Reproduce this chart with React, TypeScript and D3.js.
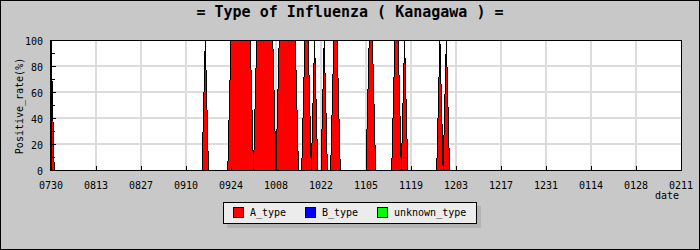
import React from 'react';
import * as d3 from 'd3';

const TITLE = '= Type of Influenza ( Kanagawa ) =';
const X_TICK_LABELS = ['0730', '0813', '0827', '0910', '0924', '1008', '1022', '1105', '1119', '1203', '1217', '1231', '0114', '0128', '0211'];
const Y_TICKS = [0, 20, 40, 60, 80, 100];
const Y_MINOR = [10, 30, 50, 70, 90];
const SERIES_NAMES = ['A_type', 'B_type', 'unknown_type'];
const SERIES_COLORS = ['#ff0000', '#0000ff', '#00ff00'];

// daily positive rate (%) from 07/30 to 02/11, two weeks per row
const A_TYPE = [
  100, 0, 0, 0, 0, 0, 0, 0, 0, 0, 0, 0, 0, 0,
  0, 0, 0, 0, 0, 0, 0, 0, 0, 0, 0, 0, 0, 0,
  0, 0, 0, 0, 0, 0, 0, 0, 0, 0, 0, 0, 0, 0,
  0, 0, 0, 0, 0, 0, 100, 0, 0, 0, 0, 0, 0, 0,
  100, 100, 100, 100, 100, 100, 100, 0, 100, 100, 100, 100, 100, 100,
  0, 100, 100, 100, 100, 100, 100, 0, 0, 100, 100, 0, 100, 0,
  0, 100, 0, 0, 100, 100, 0, 0, 0, 0, 0, 0, 0, 0,
  0, 100, 100, 0, 0, 0, 0, 0, 0, 100, 100, 0, 100, 0,
  0, 0, 0, 0, 0, 0, 0, 0, 0, 100, 0, 100, 0, 0,
  0, 0, 0, 0, 0, 0, 0, 0, 0, 0, 0, 0, 0, 0,
  0, 0, 0, 0, 0, 0, 0, 0, 0, 0, 0, 0, 0, 0,
  0, 0, 0, 0, 0, 0, 0, 0, 0, 0, 0, 0, 0, 0,
  0, 0, 0, 0, 0, 0, 0, 0, 0, 0, 0, 0, 0, 0,
  0, 0, 0, 0, 0, 0, 0, 0, 0, 0, 0, 0, 0, 0,
  0,
];
const B_TYPE = [
  0, 0, 0, 0, 0, 0, 0, 0, 0, 0, 0, 0, 0, 0,
  0, 0, 0, 0, 0, 0, 0, 0, 0, 0, 0, 0, 0, 0,
  0, 0, 0, 0, 0, 0, 0, 0, 0, 0, 0, 0, 0, 0,
  0, 0, 0, 0, 0, 0, 0, 0, 0, 0, 0, 0, 0, 0,
  0, 0, 0, 0, 0, 0, 0, 0, 0, 0, 0, 0, 0, 0,
  0, 0, 0, 0, 0, 0, 0, 0, 0, 0, 0, 0, 0, 0,
  0, 0, 0, 0, 0, 0, 0, 0, 0, 0, 0, 0, 0, 0,
  0, 0, 0, 0, 0, 0, 0, 0, 0, 0, 0, 0, 0, 0,
  0, 0, 0, 0, 0, 0, 0, 0, 0, 0, 0, 0, 0, 0,
  0, 0, 0, 0, 0, 0, 0, 0, 0, 0, 0, 0, 0, 0,
  0, 0, 0, 0, 0, 0, 0, 0, 0, 0, 0, 0, 0, 0,
  0, 0, 0, 0, 0, 0, 0, 0, 0, 0, 0, 0, 0, 0,
  0, 0, 0, 0, 0, 0, 0, 0, 0, 0, 0, 0, 0, 0,
  0, 0, 0, 0, 0, 0, 0, 0, 0, 0, 0, 0, 0, 0,
  0,
];
const UNKNOWN_TYPE = [
  0, 0, 0, 0, 0, 0, 0, 0, 0, 0, 0, 0, 0, 0,
  0, 0, 0, 0, 0, 0, 0, 0, 0, 0, 0, 0, 0, 0,
  0, 0, 0, 0, 0, 0, 0, 0, 0, 0, 0, 0, 0, 0,
  0, 0, 0, 0, 0, 0, 0, 0, 0, 0, 0, 0, 0, 0,
  0, 0, 0, 0, 0, 0, 0, 0, 0, 0, 0, 0, 0, 0,
  0, 0, 0, 0, 0, 0, 0, 0, 0, 0, 0, 0, 0, 0,
  0, 0, 0, 0, 0, 0, 0, 0, 0, 0, 0, 0, 0, 0,
  0, 0, 0, 0, 0, 0, 0, 0, 0, 0, 0, 0, 0, 0,
  0, 0, 0, 0, 0, 0, 0, 0, 0, 0, 0, 0, 0, 0,
  0, 0, 0, 0, 0, 0, 0, 0, 0, 0, 0, 0, 0, 0,
  0, 0, 0, 0, 0, 0, 0, 0, 0, 0, 0, 0, 0, 0,
  0, 0, 0, 0, 0, 0, 0, 0, 0, 0, 0, 0, 0, 0,
  0, 0, 0, 0, 0, 0, 0, 0, 0, 0, 0, 0, 0, 0,
  0, 0, 0, 0, 0, 0, 0, 0, 0, 0, 0, 0, 0, 0,
  0,
];

const W = 700;
const H = 250;
const M = { left: 51, right: 681, top: 40, bottom: 170 };
const MONO = '"DejaVu Sans Mono", "Liberation Mono", monospace';

export default function App() {
  const nDays = A_TYPE.length;
  const x = d3.scaleLinear().domain([0, nDays - 1]).range([M.left, M.right]);
  const y = d3.scaleLinear().domain([0, 100]).range([M.bottom, M.top]);

  const rows = A_TYPE.map((a, i) => ({ i, A_type: a, B_type: B_TYPE[i], unknown_type: UNKNOWN_TYPE[i] }));
  const stacked = d3.stack<any>().keys(SERIES_NAMES)(rows);
  const area = d3
    .area<any>()
    .x((d) => x(d.data.i))
    .y0((d) => y(d[0]))
    .y1((d) => y(d[1]));

  const tickIdx = X_TICK_LABELS.map((_, k) => k * 14);

  return (
    <svg width={W} height={H} style={{ position: 'absolute', left: 0, top: 0, display: 'block' }}>
      <rect x={0.5} y={0.5} width={W - 1} height={H - 1} fill="#c8c8c8" stroke="#000" strokeWidth={1} />
      <text x={350} y={17} textAnchor="middle" fontFamily={MONO} fontWeight="bold" fontSize={15} fill="#000">
        {TITLE}
      </text>
      <defs>
        <clipPath id="plotclip">
          <rect x={M.left} y={M.top} width={M.right - M.left} height={M.bottom - M.top} />
        </clipPath>
      </defs>
      <rect x={M.left} y={M.top} width={M.right - M.left} height={M.bottom - M.top} fill="#fff" />
      {/* grid */}
      <g stroke="#dcdcdc" strokeWidth={2} shapeRendering="crispEdges">
        {tickIdx.slice(1, -1).map((t) => (
          <line key={'gx' + t} x1={x(t)} x2={x(t)} y1={M.top} y2={M.bottom} />
        ))}
        {Y_TICKS.slice(1, -1).map((v) => (
          <line key={'gy' + v} x1={M.left} x2={M.right} y1={y(v)} y2={y(v)} />
        ))}
      </g>
      {/* areas */}
      <g clipPath="url(#plotclip)">
        {stacked.map((s, k) => (
          <path
            key={s.key}
            d={area(s) || ''}
            fill={SERIES_COLORS[k]}
            stroke="#000"
            strokeWidth={1}
            shapeRendering="crispEdges"
          />
        ))}
      </g>
      {/* ticks */}
      <g stroke="#000" strokeWidth={1} shapeRendering="crispEdges">
        {tickIdx.map((t) => (
          <line key={'tx' + t} x1={x(t) + 0.5} x2={x(t) + 0.5} y1={M.bottom} y2={M.bottom - 4} />
        ))}
        {Y_TICKS.map((v) => (
          <line key={'ty' + v} x1={M.left} x2={M.left + 5} y1={y(v) + 0.5} y2={y(v) + 0.5} />
        ))}
        {Y_MINOR.map((v) => (
          <line key={'tm' + v} x1={M.left} x2={M.left + 4} y1={y(v) + 0.5} y2={y(v) + 0.5} />
        ))}
      </g>
      {/* frame */}
      <rect
        x={M.left + 0.5}
        y={M.top + 0.5}
        width={M.right - M.left}
        height={M.bottom - M.top}
        fill="none"
        stroke="#000"
        strokeWidth={1}
        shapeRendering="crispEdges"
      />
      <line x1={M.left} x2={M.left} y1={M.top} y2={M.bottom + 1} stroke="#000" strokeWidth={2} shapeRendering="crispEdges" />
      {/* tick labels */}
      <g fontFamily={MONO} fontSize={10} fill="#000">
        {X_TICK_LABELS.map((lab, k) => (
          <text key={'lx' + k} x={x(tickIdx[k])} y={189} textAnchor="middle">
            {lab}
          </text>
        ))}
        {Y_TICKS.map((v) => (
          <text key={'ly' + v} x={43} y={y(v) + 4.5} textAnchor="end">
            {v}
          </text>
        ))}
        <text x={679} y={199} textAnchor="end">
          date
        </text>
        <text transform="translate(23,106) rotate(-90)" textAnchor="middle">
          Positive_rate(%)
        </text>
      </g>
      {/* legend */}
      <rect x={227} y={206} width={254} height={22} fill="#b4b4b4" />
      <rect x={223.5} y={202.5} width={253} height={21} fill="#ececec" stroke="#000" strokeWidth={1} />
      {SERIES_NAMES.map((name, k) => (
        <g key={name} transform={`translate(${233.5 + k * 72},207.5)`}>
          <rect x={0} y={0} width={10} height={10} fill={SERIES_COLORS[k]} stroke="#000" strokeWidth={1} />
          <text x={16.5} y={8.5} fontFamily={MONO} fontSize={10} fill="#000">
            {name}
          </text>
        </g>
      ))}
    </svg>
  );
}
